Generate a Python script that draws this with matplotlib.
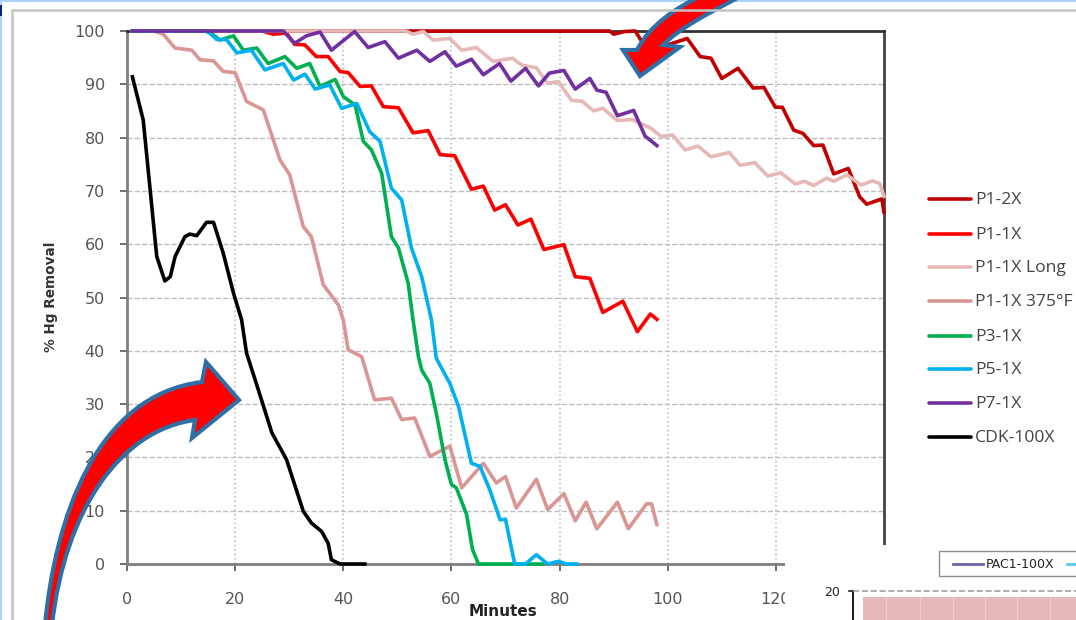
import matplotlib
matplotlib.use('Agg')
import matplotlib.pyplot as plt
from matplotlib.patches import PathPatch, Rectangle
from matplotlib.path import Path

# values (minutes, % Hg removal)
p1_2x_t = [1, 89.3, 90, 92, 94, 95.4, 97.5, 100.9, 103.6, 106, 108, 110, 113, 115.8, 117.8, 119.9, 121.2, 123.3, 125, 127, 128.7, 130.7, 133.4, 135.5, 136.8, 139.6, 140]
p1_2x_y = [100, 100, 99.4, 99.9, 100, 97.7, 96.5, 97.7, 98.6, 95.2, 94.9, 91.1, 93, 89.3, 89.4, 85.7, 85.7, 81.4, 80.8, 78.5, 78.6, 73.2, 74.2, 68.9, 67.5, 68.5, 66]

p1_1x_t = [1, 25, 27, 29.5, 31, 32.9, 35, 37.2, 39.4, 40.9, 43.1, 45.2, 47.4, 50.2, 52.9, 55.7, 57.9, 60.6, 63.7, 65.9, 68, 70, 72.3, 74.7, 77.1, 80.8, 82.9, 85.6, 88, 91.7, 94.4, 96.8, 98]
p1_1x_y = [100, 100, 99.4, 99.6, 97.5, 97.4, 95.2, 95.2, 92.4, 92.2, 89.6, 89.7, 85.8, 85.6, 80.9, 81.3, 76.8, 76.6, 70.3, 70.9, 66.4, 67.4, 63.6, 64.7, 59, 59.9, 53.9, 53.6, 47.2, 49.3, 43.6, 46.9, 45.9]

long_t = [1, 51.5, 52.9, 54.8, 56.6, 59.7, 61.9, 64.6, 67.7, 71.3, 73, 75.7, 77.8, 79.8, 82.2, 84.2, 86.3, 88, 90.7, 93.4, 96.8, 98.8, 100.9, 103.2, 105.6, 108, 111.4, 113.4, 116.1, 118.5, 120.9, 123.6, 125.3, 127, 129.4, 130.7, 133.1, 135.8, 137.9, 139.2, 140]
long_y = [100, 100, 99.4, 99.9, 98.3, 98.6, 96.4, 96.9, 94.3, 94.9, 93.6, 93.1, 90.2, 90.5, 87, 86.8, 85, 85.5, 83.2, 83.4, 81.8, 80.2, 80.5, 77.7, 78.4, 76.4, 77.2, 74.8, 75.3, 72.8, 73.4, 71.3, 71.8, 71, 72.4, 71.8, 73, 71.1, 71.9, 71.4, 69]

f375_t = [1, 5, 6.7, 8.9, 12, 13.5, 16, 17.8, 20, 22.1, 25.2, 28.3, 30.1, 32.6, 34.1, 36.3, 39.1, 40, 40.9, 43.4, 45.8, 48.9, 50.8, 53.2, 56, 59.7, 61.9, 65.9, 68.3, 70, 72, 75.7, 77.8, 80.8, 82.9, 84.9, 86.9, 90.7, 92.7, 96.1, 97, 98]
f375_y = [100, 100, 99.4, 96.8, 96.4, 94.6, 94.4, 92.4, 92.2, 86.8, 85.2, 75.8, 73, 63.3, 61.4, 52.4, 48.6, 45.8, 40.2, 38.9, 30.8, 31.1, 27.1, 27.4, 20.2, 22.1, 14.3, 18.9, 15.2, 16.4, 10.5, 15.9, 10.2, 13.2, 8.1, 11.6, 6.6, 11.6, 6.6, 11.3, 11.3, 7.4]

p3_t = [1, 15, 17.2, 19.7, 21.5, 24, 26.1, 29.2, 31.4, 33.8, 35.7, 38.5, 40, 42.2, 43.7, 45.2, 47.1, 48.9, 50.2, 52, 52.9, 53.9, 54.5, 56, 57.2, 58.8, 60, 60.9, 62.8, 63.9, 65, 76.8]
p3_y = [100, 100, 98.3, 99.1, 96.4, 96.8, 93.9, 95.2, 93, 93.9, 89.6, 90.9, 87.7, 86.1, 79.3, 77.7, 73.3, 61.4, 59.3, 52.7, 45.8, 38.9, 36.4, 33.9, 28.3, 19.6, 14.9, 14.3, 9.3, 2.7, 0, 0]

p5_t = [1, 14.5, 15.3, 16.6, 18.4, 20.3, 23, 25.5, 28.9, 30.8, 32.9, 34.8, 37.5, 39.7, 42.5, 44.9, 46.8, 48.9, 50.8, 52.6, 54.5, 56.3, 57.2, 59.7, 61.3, 63.7, 65.3, 67.1, 69, 70, 71.7, 73.7, 75.7, 77.8, 79.8, 81.2, 83.2]
p5_y = [100, 100, 99.6, 98.4, 98.4, 95.9, 96.4, 92.7, 93.9, 90.8, 91.9, 89.1, 89.9, 85.5, 86.4, 81.1, 79.3, 70.5, 68.3, 59.3, 53.9, 45.8, 38.6, 33.9, 29.6, 18.9, 18.3, 13.9, 8.3, 8.4, 0, 0, 1.75, 0, 0.5, 0, 0]

p7_t = [1, 28.9, 31, 33.2, 35.7, 37.8, 42.1, 44.6, 47.7, 50.2, 53.6, 56, 58.8, 60.9, 63.7, 65.9, 68.9, 71, 73.7, 76.1, 78.1, 80.8, 82.9, 85.6, 86.9, 88.6, 90.7, 93.7, 95.8, 98]
p7_y = [100, 100, 97.7, 99.1, 99.8, 96.4, 99.9, 96.9, 98, 94.9, 96.4, 94.3, 96.1, 93.4, 94.7, 91.8, 93.9, 90.6, 93, 89.7, 92.1, 92.6, 89.1, 91.1, 88.9, 88.5, 84.1, 85.1, 80.3, 78.5]

cdk_t = [1, 3, 5.5, 7, 8, 8.9, 10.7, 11.6, 12.9, 14.7, 16, 17.8, 19.7, 21.2, 22.1, 24, 26.8, 29.5, 32.6, 34.1, 36, 37.2, 37.8, 39.4, 44]
cdk_y = [91.4, 83.3, 57.7, 53.1, 53.9, 57.7, 61.4, 61.9, 61.6, 64.1, 64.1, 58.3, 50.8, 45.8, 39.6, 33.6, 24.6, 19.6, 9.9, 7.7, 6.1, 3.9, 0.8, 0, 0]

names = ['P1-2X', 'P1-1X', 'P1-1X Long', 'P1-1X 375°F', 'P3-1X', 'P5-1X', 'P7-1X', 'CDK-100X']
colors = ['#C00000', '#FF0000', '#E6B9B8', '#D99694', '#00B050', '#00B0F0', '#7030A0', '#000000']
times = [p1_2x_t, p1_1x_t, long_t, f375_t, p3_t, p5_t, p7_t, cdk_t]
values = [p1_2x_y, p1_1x_y, long_y, f375_y, p3_y, p5_y, p7_y, cdk_y]

W, H = 1076, 620
fig = plt.figure(figsize=(W / 100, H / 100), dpi=100)

ax = fig.add_axes([127 / W, 1 - 564 / H, (884 - 127) / W, (564 - 31) / H])
for t, v, name, c in zip(times, values, names, colors):
    ax.plot(t, v, color=c, linewidth=2.6, label=name, clip_on=False, solid_joinstyle='round', zorder=3)

ax.set_xlim(0, 140)
ax.set_ylim(0, 100)
ax.set_xticks(range(0, 141, 20))
ax.set_yticks(range(0, 101, 10))
ax.grid(True, axis='y', color='#BDBDBD', linestyle='--', linewidth=1)
ax.grid(True, axis='x', color='#C0C0C0', linestyle=':', linewidth=1.2)
ax.set_axisbelow(True)
ax.tick_params(labelsize=11.5, colors='#555555', length=5, width=1.2)
ax.tick_params(axis='x', pad=15)
ax.tick_params(axis='y', pad=11)
ax.spines['left'].set_color('#7F7F7F')
ax.spines['bottom'].set_color('#7F7F7F')
ax.spines['top'].set_color('#333333')
ax.spines['right'].set_color('#444444')
for s in ax.spines.values():
    s.set_linewidth(2)
ax.set_xlabel('Minutes', fontsize=11, fontweight='bold', color='#222222')
ax.xaxis.set_label_coords((503 - 127) / (884 - 127), -47 / 533, transform=ax.transAxes)
ax.xaxis.label.set_verticalalignment('center')
ax.set_ylabel('% Hg Removal', fontsize=9.8, fontweight='bold', color='#333333')
ax.yaxis.set_label_coords((58 - 127) / (884 - 127), (564 - 297) / 533, transform=ax.transAxes)

# overlay in pixel coordinates for the slide furniture
over = fig.add_axes([0, 0, 1, 1], zorder=10)
over.set_xlim(0, W)
over.set_ylim(H, 0)
over.axis('off')

# slide border bits
over.add_patch(Rectangle((0, 0), W, 2, color='#AAD4FA', lw=0))
over.add_patch(Rectangle((0, 0), 2, H, color='#AAD4FA', lw=0))
over.add_patch(Rectangle((0, 5), 1.5, 11, color='#00248A', lw=0))
over.plot([12, 12, W], [H, 10, 10], color='#C4C4C4', linewidth=1.8)

# legend
legend_y = [199, 234, 267, 301, 336, 369, 403, 437]
for name, c, y in zip(names, colors, legend_y):
    over.plot([929, 971], [y, y], color=c, linewidth=2.6, solid_capstyle='round')
    over.text(975, y + 1, name, fontsize=12.6, family='Open Sans', color='#444444', va='center', ha='left')

# pasted second chart covering the lower right corner
over.add_patch(Rectangle((785, 545), W - 785, H - 545, color='white', lw=0))
over.add_patch(Rectangle((939, 551), 150, 25, facecolor='white', edgecolor='#8C8C8C', lw=1))
over.plot([953, 983], [564, 564], color='#6B64A8', linewidth=2)
over.plot([1067, 1080], [564, 564], color='#5BC8F0', linewidth=2)
over.text(986, 564.5, 'PAC1-100X', fontsize=9, color='#222222', va='center', ha='left')
over.text(832, 592, '20', fontsize=9, color='#222222', va='center', ha='center')
over.plot([853, 853], [591, H], color='#222222', linewidth=1.5)
over.plot([849, 853], [591, 591], color='#222222', linewidth=1.2)
over.plot([853, W], [591, 591], color='#A0A0A0', linewidth=1.2, linestyle='--')
over.add_patch(Rectangle((863, 597), W - 863, H - 597, color='#E6B8B7', lw=0))
for x in [886, 920, 953, 985, 1017, 1050]:
    over.plot([x, x], [597, H], color='#EDCFCE', linewidth=0.8)

# big arrows
arrow_edge = '#2E6FA7'
low_verts = [(45, 625), (55, 520), (95, 395), (202, 382), (206, 362), (239, 400), (192, 438), (195, 420),
             (120, 430), (65, 510), (52, 625), (45, 625)]
low_codes = [Path.MOVETO, Path.CURVE4, Path.CURVE4, Path.CURVE4, Path.LINETO, Path.LINETO, Path.LINETO, Path.LINETO,
             Path.CURVE4, Path.CURVE4, Path.CURVE4, Path.CLOSEPOLY]
over.add_patch(PathPatch(Path(low_verts, low_codes), facecolor='#FF0000', edgecolor=arrow_edge, linewidth=3, joinstyle='miter'))

top_verts = [(640, 76), (623, 50), (637, 50), (650, 25), (675, 8), (705, -6), (745, -6), (705, 15), (680, 28), (663, 45),
             (680, 47), (640, 76)]
top_codes = [Path.MOVETO, Path.LINETO, Path.LINETO, Path.CURVE4, Path.CURVE4, Path.CURVE4, Path.LINETO, Path.CURVE4,
             Path.CURVE4, Path.CURVE4, Path.LINETO, Path.CLOSEPOLY]
over.add_patch(PathPatch(Path(top_verts, top_codes), facecolor='#FF0000', edgecolor=arrow_edge, linewidth=3, joinstyle='miter'))

fig.savefig('out.png', dpi=100)
